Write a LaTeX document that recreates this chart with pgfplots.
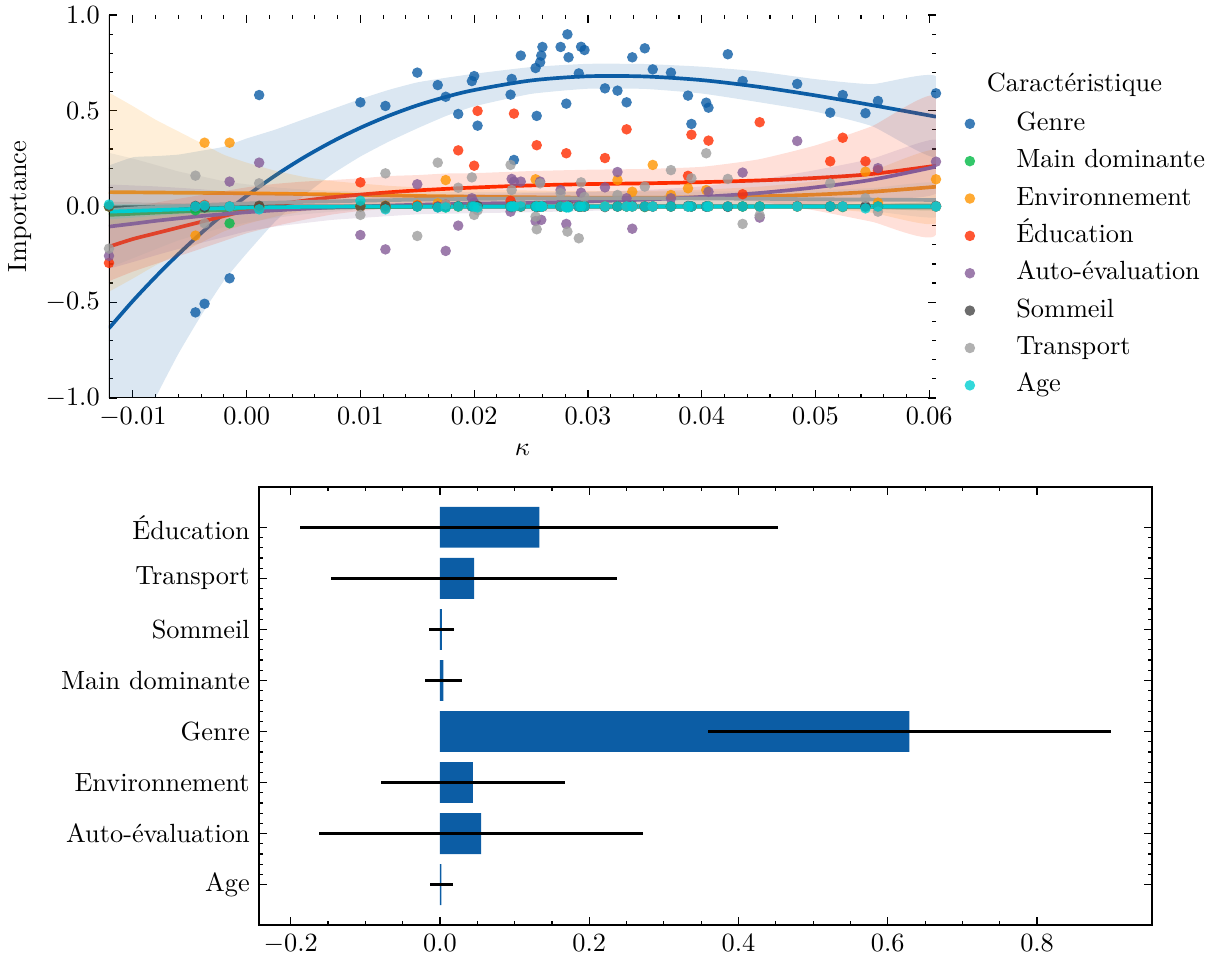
\documentclass[border=0pt]{standalone}
\usepackage{fontspec}
\usepackage{pgfplots}
\pgfplotsset{compat=1.18}
\usepackage{pgfplotstable}

\definecolor{cGenre}{HTML}{0C5DA5}
\definecolor{cMain}{HTML}{00B945}
\definecolor{cEnv}{HTML}{FF9500}
\definecolor{cEdu}{HTML}{FF2C00}
\definecolor{cAuto}{HTML}{845B97}
\definecolor{cSom}{HTML}{474747}
\definecolor{cTrans}{HTML}{9E9E9E}
\definecolor{cAge}{HTML}{00CED1}

% scatter: one row per model (kappa), importance of each feature
\pgfplotstableread{
k genre main env edu auto som trans age
-0.0121 nan 0.000 0.000 -0.295 -0.258 0.000 -0.220 0.010
-0.0045 -0.553 -0.020 -0.152 0.000 0.000 0.003 0.161 0.000
-0.0037 -0.508 -0.005 0.333 0.008 0.000 -0.005 -0.088 0.005
-0.0015 -0.375 -0.088 0.333 0.000 0.130 0.000 0.000 0.000
0.0011 0.582 0.000 0.000 -0.005 0.229 0.004 0.121 -0.015
0.0100 0.544 0.005 0.000 0.126 -0.149 0.000 -0.044 0.030
0.0122 0.525 -0.005 0.005 -0.010 -0.224 0.003 0.173 -0.015
0.0150 0.699 0.000 0.010 0.005 0.116 0.000 -0.154 0.000
0.0168 0.634 0.000 0.017 0.000 0.000 -0.004 0.229 -0.005
0.0175 0.573 -0.005 0.138 0.010 -0.232 0.000 0.010 -0.005
0.0186 0.483 0.000 0.000 0.293 -0.100 0.002 0.098 0.000
0.0198 0.655 0.003 0.005 0.000 0.043 0.000 0.152 0.000
0.0200 0.681 0.000 0.010 0.213 0.020 0.000 -0.044 0.000
0.0203 0.422 0.000 0.000 0.499 0.000 0.003 -0.020 -0.005
0.0232 0.584 0.000 0.000 0.030 -0.027 0.000 0.217 0.000
0.0233 0.666 -0.004 0.005 0.000 0.144 0.000 0.086 0.000
0.0235 0.243 0.000 0.000 0.485 0.130 0.004 0.000 0.000
0.0241 0.788 0.000 0.000 0.000 0.130 0.000 0.020 0.000
0.0254 0.723 0.000 0.142 0.000 -0.076 0.000 -0.053 0.000
0.0255 0.473 0.002 0.000 0.320 0.000 -0.003 -0.119 0.000
0.0258 0.753 0.000 0.000 0.000 0.130 0.000 0.121 0.000
0.0259 0.788 0.000 0.000 0.000 -0.070 0.000 0.000 0.000
0.0260 0.833 0.000 0.000 0.000 0.000 0.002 0.000 0.000
0.0276 0.833 0.000 0.000 0.000 0.086 0.000 0.070 0.000
0.0281 0.537 -0.003 0.000 0.278 -0.091 0.000 0.000 -0.005
0.0282 0.899 0.000 0.000 0.000 0.000 0.000 -0.131 0.000
0.0283 0.779 0.000 0.000 0.000 0.000 0.003 0.000 -0.005
0.0292 0.695 0.000 0.000 0.000 0.000 0.000 -0.166 0.000
0.0294 0.834 0.000 0.000 0.000 0.072 0.000 0.126 0.000
0.0297 0.817 0.003 0.000 0.000 0.000 0.000 0.050 0.000
0.0315 0.617 0.000 0.000 0.253 0.100 -0.003 0.000 0.000
0.0326 0.605 0.000 0.138 0.000 0.180 0.000 0.060 0.000
0.0334 0.544 0.000 0.000 0.403 0.043 0.000 0.000 0.000
0.0339 0.779 0.000 0.077 0.000 -0.116 0.002 0.000 0.000
0.0350 0.826 -0.003 0.000 0.000 0.000 0.000 0.104 0.000
0.0357 0.716 0.000 0.217 0.000 0.000 0.000 0.000 0.000
0.0373 0.699 0.000 0.060 0.000 0.043 0.000 0.190 0.000
0.0388 0.579 0.000 0.095 0.160 0.000 0.003 0.000 0.000
0.0391 0.431 0.000 0.000 0.375 0.000 0.000 0.147 0.000
0.0404 0.542 0.000 0.086 0.000 0.000 0.000 0.278 0.000
0.0406 0.516 0.002 0.000 0.344 0.077 0.000 0.000 0.000
0.0423 0.795 0.000 0.000 0.000 0.000 -0.002 0.144 0.000
0.0436 0.655 0.000 0.000 0.064 0.177 0.000 -0.091 0.000
0.0451 nan 0.000 0.000 0.440 -0.058 0.000 -0.046 0.000
0.0484 0.640 0.000 0.000 0.000 0.342 0.002 0.000 0.000
0.0513 0.490 0.000 0.000 0.236 0.000 0.000 0.121 0.000
0.0524 0.582 -0.003 0.000 0.359 0.000 0.000 0.000 0.000
0.0544 0.487 0.000 0.182 0.236 0.000 0.000 0.043 -0.010
0.0555 0.551 0.000 0.020 0.190 0.200 0.000 -0.027 0.000
0.0606 0.591 0.000 0.142 0.000 0.234 0.003 0.000 0.000
}\scatterdata

% fitted curves
\pgfplotstableread{
k gc mc ec dc ac sc tc yc
-0.0121 -0.636 -0.044 0.075 -0.21 -0.105 -0.005 -0.02 -0.027
-0.010 -0.493 -0.038 0.074 -0.17 -0.09 -0.004 -0.01 -0.023
-0.008 -0.367 -0.032 0.073 -0.14 -0.075 -0.003 -0.003 -0.019
-0.006 -0.249 -0.027 0.072 -0.11 -0.062 -0.002 0.003 -0.015
-0.004 -0.139 -0.022 0.071 -0.08 -0.05 -0.001 0.008 -0.012
-0.002 -0.038 -0.018 0.070 -0.05 -0.04 0 0.012 -0.009
0.000 0.055 -0.014 0.069 -0.02 -0.03 0 0.016 -0.006
0.0025 0.161 -0.01 0.067 0.008 -0.02 0 0.02 -0.004
0.005 0.255 -0.007 0.065 0.03 -0.012 0 0.024 -0.002
0.0075 0.338 -0.005 0.063 0.048 -0.005 0 0.027 -0.001
0.010 0.411 -0.003 0.060 0.062 0.0 0 0.03 0
0.0125 0.474 -0.002 0.058 0.074 0.005 0 0.033 0
0.015 0.528 -0.001 0.055 0.084 0.009 0 0.036 0
0.0175 0.572 0 0.053 0.092 0.012 0 0.038 0
0.020 0.608 0 0.051 0.099 0.015 0 0.04 0
0.025 0.658 0 0.048 0.110 0.02 0 0.042 0
0.030 0.680 0 0.046 0.117 0.027 0 0.043 0
0.035 0.679 0 0.046 0.121 0.036 0 0.043 0
0.040 0.660 0 0.048 0.127 0.05 0 0.042 0
0.045 0.625 0 0.053 0.136 0.07 0 0.04 0
0.050 0.580 0 0.062 0.149 0.10 0 0.038 0
0.055 0.529 0 0.077 0.170 0.14 0 0.036 0
0.0606 0.469 0 0.103 0.213 0.208 0 0.034 0
}\fitdata

% confidence bands: upper bound left to right, then lower bound right to left
\pgfplotstableread{
k g m e d a s t y
-0.0121 0.214 0.006 0.595 -0.03 0.115 0.025 0.28 0.013
-0.010 0.257 0.007 0.524 0.0 0.11 0.022 0.25 0.012
-0.008 0.263 0.008 0.453 0.02 0.105 0.019 0.217 0.011
-0.006 0.271 0.008 0.392 0.04 0.098 0.016 0.183 0.011
-0.004 0.291 0.008 0.331 0.06 0.09 0.013 0.158 0.01
-0.002 0.312 0.007 0.270 0.08 0.08 0.011 0.132 0.009
0.000 0.355 0.006 0.229 0.10 0.07 0.01 0.116 0.009
0.0025 0.401 0.006 0.187 0.118 0.065 0.009 0.10 0.008
0.005 0.455 0.006 0.155 0.13 0.063 0.008 0.089 0.008
0.0075 0.508 0.006 0.133 0.138 0.06 0.007 0.082 0.007
0.010 0.561 0.007 0.120 0.147 0.06 0.007 0.078 0.007
0.0125 0.609 0.007 0.108 0.159 0.06 0.006 0.077 0.006
0.015 0.648 0.007 0.10 0.164 0.059 0.006 0.076 0.006
0.0175 0.672 0.008 0.093 0.172 0.062 0.006 0.076 0.006
0.020 0.693 0.008 0.091 0.174 0.065 0.006 0.076 0.006
0.025 0.728 0.008 0.083 0.185 0.07 0.006 0.077 0.006
0.030 0.745 0.008 0.081 0.192 0.077 0.006 0.078 0.006
0.035 0.744 0.008 0.081 0.196 0.086 0.006 0.078 0.006
0.040 0.730 0.008 0.088 0.207 0.105 0.007 0.078 0.007
0.045 0.705 0.009 0.103 0.246 0.14 0.008 0.08 0.008
0.050 0.665 0.011 0.132 0.319 0.19 0.01 0.086 0.009
0.055 0.639 0.014 0.187 0.42 0.25 0.013 0.096 0.011
0.0606 0.679 0.02 0.293 0.573 0.348 0.02 0.124 0.015
0.0606 0.259 -0.02 -0.087 -0.147 0.068 -0.02 -0.056 -0.015
0.055 0.419 -0.014 -0.033 -0.08 0.03 -0.013 -0.024 -0.011
0.050 0.495 -0.011 -0.008 -0.021 0.01 -0.01 -0.01 -0.009
0.045 0.545 -0.009 0.003 0.026 0.0 -0.008 0.0 -0.008
0.040 0.590 -0.008 0.008 0.047 -0.005 -0.007 0.006 -0.007
0.035 0.614 -0.008 0.011 0.046 -0.014 -0.006 0.008 -0.006
0.030 0.615 -0.008 0.011 0.042 -0.023 -0.006 0.008 -0.006
0.025 0.588 -0.008 0.013 0.035 -0.03 -0.006 0.007 -0.006
0.020 0.523 -0.008 0.011 0.024 -0.035 -0.006 0.004 -0.006
0.0175 0.472 -0.008 0.013 0.012 -0.038 -0.006 0.0 -0.006
0.015 0.408 -0.009 0.01 0.004 -0.041 -0.006 -0.004 -0.006
0.0125 0.339 -0.011 0.008 -0.011 -0.05 -0.006 -0.011 -0.006
0.010 0.261 -0.013 0.0 -0.023 -0.06 -0.007 -0.018 -0.007
0.0075 0.168 -0.016 -0.007 -0.042 -0.07 -0.007 -0.028 -0.009
0.005 0.055 -0.02 -0.025 -0.07 -0.087 -0.008 -0.041 -0.012
0.0025 -0.079 -0.026 -0.053 -0.102 -0.105 -0.009 -0.06 -0.016
0.000 -0.245 -0.034 -0.091 -0.14 -0.13 -0.01 -0.084 -0.021
-0.002 -0.388 -0.043 -0.130 -0.18 -0.16 -0.011 -0.108 -0.027
-0.004 -0.569 -0.052 -0.189 -0.22 -0.19 -0.015 -0.142 -0.034
-0.006 -0.769 -0.062 -0.248 -0.26 -0.222 -0.02 -0.177 -0.041
-0.008 -0.997 -0.072 -0.307 -0.30 -0.255 -0.025 -0.223 -0.049
-0.010 -1.243 -0.083 -0.376 -0.34 -0.29 -0.03 -0.27 -0.058
-0.0121 -1.486 -0.094 -0.445 -0.39 -0.325 -0.035 -0.32 -0.067
}\banddata

% mean importance and std per feature (y = category index)
\pgfplotstableread{
y mean err
0 0.002 0.0154
1 0.055 0.217
2 0.044 0.123
3 0.629 0.270
4 0.0045 0.0245
5 0.0025 0.0167
6 0.0457 0.1917
7 0.133 0.320
}\bardata

\pgfplotsset{
  sc/.style={only marks, mark=*, mark size=2pt,
    mark options={fill=#1, draw=#1, fill opacity=0.8, draw opacity=0}},
  fitline/.style={#1, line width=1.4pt, smooth, tension=0.5, forget plot, no marks},
  band/.style={fill=#1, fill opacity=0.15, draw=none, smooth, tension=0.3, forget plot, no marks},
}

\newcommand{\fitgroup}[2]{%
  \addplot[band=#2] table[x=k, y=#1]{\banddata};
  \addplot[fitline=#2] table[x=k, y=#1c]{\fitdata};
}

\begin{document}
\begin{tikzpicture}
\useasboundingbox (0,0) rectangle (463.6pt,364.04pt);

\begin{axis}[
  at={(41.42pt,212.8pt)}, anchor=south west,
  scale only axis, width=314.26pt, height=145.54pt,
  xmin=-0.0121, xmax=0.0606, ymin=-1, ymax=1,
  xtick={-0.01,0,0.01,0.02,0.03,0.04,0.05,0.06},
  ytick={-1,-0.5,0,0.5,1},
  minor x tick num=4, minor y tick num=4,
  scaled x ticks=false, scaled y ticks=false,
  xticklabel style={/pgf/number format/.cd, fixed, fixed zerofill, precision=2},
  yticklabel style={/pgf/number format/.cd, fixed, fixed zerofill, precision=1},
  major tick length=2.9pt, minor tick length=1.6pt,
  tick style={black, line width=0.45pt},
  axis line style={draw=none},
  xlabel={$\kappa$}, ylabel={Importance},
  ylabel style={yshift=-1.5pt},
  legend cell align=left,
  legend image code/.code={\path[draw=none, fill=none] (0cm,-0.1cm) rectangle (0.8cm,0.1cm);
    \draw[mark repeat=2, mark phase=2, #1] plot coordinates {(0cm,0cm) (0.25cm,0cm) (0.5cm,0cm)};},
  legend style={draw=none, fill=none, inner sep=0pt, at={(1.0177,0.762)}, anchor=north west,
    row sep=1.2pt, nodes={inner sep=2pt, text height=7pt, text depth=2pt}},
]
\addplot[sc=cGenre] table[x=k, y=genre]{\scatterdata};
\addlegendentry{Genre}
\fitgroup{g}{cGenre}
\addplot[sc=cMain] table[x=k, y=main]{\scatterdata};
\addlegendentry{Main dominante}
\fitgroup{m}{cMain}
\addplot[sc=cEnv] table[x=k, y=env]{\scatterdata};
\addlegendentry{Environnement}
\fitgroup{e}{cEnv}
\addplot[sc=cEdu] table[x=k, y=edu]{\scatterdata};
\addlegendentry{Éducation}
\fitgroup{d}{cEdu}
\addplot[sc=cAuto] table[x=k, y=auto]{\scatterdata};
\addlegendentry{Auto-évaluation}
\fitgroup{a}{cAuto}
\addplot[sc=cSom] table[x=k, y=som]{\scatterdata};
\addlegendentry{Sommeil}
\fitgroup{s}{cSom}
\addplot[sc=cTrans] table[x=k, y=trans]{\scatterdata};
\addlegendentry{Transport}
\fitgroup{t}{cTrans}
\addplot[sc=cAge] table[x=k, y=age]{\scatterdata};
\addlegendentry{Age}
\fitgroup{y}{cAge}
\draw[black, line width=0.5pt] (rel axis cs:0,1) -- (rel axis cs:0,0) -- (rel axis cs:1,0);
\end{axis}

\node at (408.3pt,331.7pt) {Caractéristique};

\begin{axis}[
  at={(98.42pt,12.54pt)}, anchor=south west,
  scale only axis, width=339.34pt, height=166.44pt,
  xmin=-0.2425, xmax=0.954, ymin=-0.79, ymax=7.79,
  xtick={-0.2,0,0.2,0.4,0.6,0.8},
  ytick={0,1,2,3,4,5,6,7},
  yticklabels={Age, Auto-évaluation, Environnement, Genre, Main dominante, Sommeil, Transport, Éducation},
  minor x tick num=3, minor y tick num=4,
  scaled x ticks=false,
  xticklabel style={/pgf/number format/.cd, fixed, fixed zerofill, precision=1},
  major tick length=2.9pt, minor tick length=1.6pt,
  tick style={black, line width=0.45pt},
  axis line style={line width=0.5pt},
]
\addplot[xbar, bar width=0.8, bar shift=0pt, fill=cGenre, draw=none,
  error bars/.cd, x dir=both, x explicit, error mark=none,
  error bar style={black, line width=1pt}]
  table[x=mean, y=y, x error=err]{\bardata};
\end{axis}
\end{tikzpicture}
\end{document}
